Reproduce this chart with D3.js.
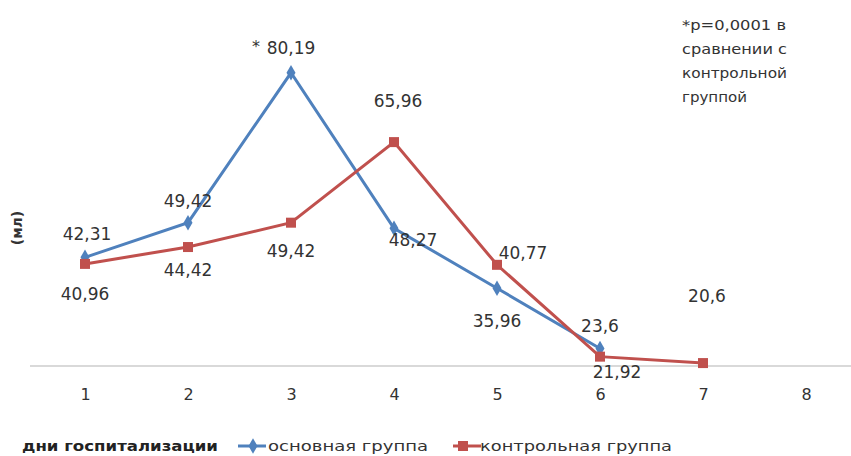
<!DOCTYPE html>
<html><head><meta charset="utf-8">
<script src="https://cdn.jsdelivr.net/npm/d3@7"></script>
<style>body{margin:0;background:#fff}svg{display:block}</style>
</head><body>
<svg id="c" width="851" height="456"></svg>
<script>
const days = [1,2,3,4,5,6,7,8];
const mainVals = [42.31,49.42,80.19,48.27,35.96,23.6];
const mainLabels = ["42,31","49,42","80,19","48,27","35,96","23,6"];
const ctrlVals = [40.96,44.42,49.42,65.96,40.77,21.92,20.6];
const ctrlLabels = ["40,96","44,42","49,42","65,96","40,77","21,92","20,6"];
const seriesNames = ["основная группа","контрольная группа"];
const noteLines = ["*р=0,0001 в","сравнении с","контрольной","группой"];

const mainOff = [[2,-23],[0,-22],[0,-25],[19,12],[0,33],[0,-22]];
const ctrlOff = [[0,30],[0,23],[0,28],[4,-41],[26,-12],[17,15],[4,-67]];

const svg = d3.select("#c");
const x = d3.scalePoint().domain(days).range([85,806]);
const y = d3.scaleLinear().domain([20,90]).range([366,25]);
const blue="#4f81bd", red="#c0504d";
const font="DejaVu Sans";

svg.append("line").attr("x1",30).attr("x2",851).attr("y1",y(20)).attr("y2",y(20))
  .attr("stroke","#d9d9d9").attr("stroke-width",2);

const xa = svg.append("g").attr("transform",`translate(0,${y(20)})`)
  .call(d3.axisBottom(x).tickSize(0).tickPadding(23));
xa.select(".domain").remove();
xa.selectAll("text").attr("font-family",font).attr("font-size",16).attr("fill","#333");

const line = d3.line().x((d,i)=>x(days[i])).y(d=>y(d));
svg.append("path").datum(mainVals).attr("d",line).attr("fill","none").attr("stroke",blue).attr("stroke-width",3);
svg.append("path").datum(ctrlVals).attr("d",line).attr("fill","none").attr("stroke",red).attr("stroke-width",3);

const diamond = d3.symbol().type(d3.symbolDiamond).size(70);
svg.selectAll(".bm").data(mainVals).join("path").attr("d",diamond)
  .attr("transform",(d,i)=>`translate(${x(days[i])},${y(d)})`).attr("fill",blue);
svg.selectAll(".rm").data(ctrlVals).join("rect")
  .attr("x",(d,i)=>x(days[i])-5).attr("y",d=>y(d)-5).attr("width",10).attr("height",10).attr("fill",red);

function labels(vals,labs,off){
  svg.append("g").selectAll("text").data(vals).join("text")
    .attr("x",(d,i)=>x(days[i])+off[i][0]).attr("y",(d,i)=>y(d)+off[i][1])
    .attr("text-anchor","middle").attr("dominant-baseline","central")
    .attr("font-family",font).attr("font-size",17).attr("fill","#333")
    .text((d,i)=>labs[i]);
}
labels(mainVals,mainLabels,mainOff);
labels(ctrlVals,ctrlLabels,ctrlOff);
svg.append("text").attr("x",x(3)-35).attr("y",y(80.19)-26).attr("text-anchor","middle")
  .attr("dominant-baseline","central").attr("font-family",font).attr("font-size",16).attr("fill","#333").text("*");

const noteLen=[104,105,105,65];
svg.append("g").selectAll("text").data(noteLines).join("text")
  .attr("x",682).attr("y",(d,i)=>30+i*24).attr("font-family",font).attr("font-size",13.5)
  .attr("textLength",(d,i)=>noteLen[i]).attr("lengthAdjust","spacingAndGlyphs")
  .attr("fill","#333").text(d=>d);

svg.append("text").attr("transform","translate(22,228) rotate(-90)").attr("text-anchor","middle")
  .attr("font-family",font).attr("font-size",14).attr("font-weight","bold").attr("fill","#333").text("(мл)");

svg.append("text").attr("x",22).attr("y",451).attr("font-family",font).attr("font-size",14)
  .attr("textLength",196).attr("lengthAdjust","spacingAndGlyphs")
  .attr("font-weight","bold").attr("fill","#222").text("дни госпитализации");
const leg = [[238,blue,"d",160,268],[453,red,"s",192,480]];
leg.forEach((l,i)=>{
  svg.append("line").attr("x1",l[0]).attr("x2",l[0]+28).attr("y1",446).attr("y2",446).attr("stroke",l[1]).attr("stroke-width",3);
  if(l[2]==="d") svg.append("path").attr("d",diamond).attr("transform",`translate(${l[0]+15},446)`).attr("fill",l[1]);
  else svg.append("rect").attr("x",l[0]+5).attr("y",441).attr("width",10).attr("height",10).attr("fill",l[1]);
  svg.append("text").attr("x",l[4]).attr("y",451).attr("font-family",font).attr("font-size",14)
    .attr("textLength",l[3]).attr("lengthAdjust","spacingAndGlyphs").attr("fill","#333").text(seriesNames[i]);
});
</script>
</body></html>
